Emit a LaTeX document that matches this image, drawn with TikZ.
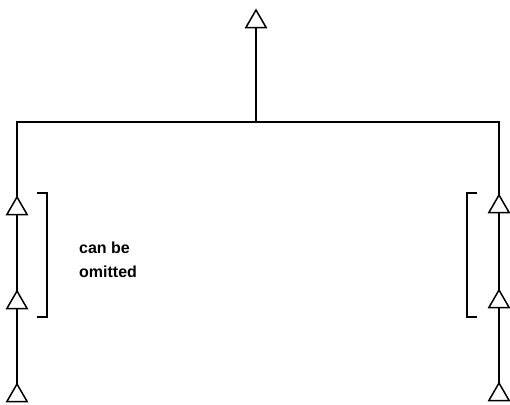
\documentclass[tikz,border=0pt]{standalone}
\usepackage{fontspec}
\setmainfont{Liberation Sans}
\usetikzlibrary{shapes.geometric}
\begin{document}
\begin{tikzpicture}[x=1pt, y=-1pt,
    tri/.style={regular polygon, regular polygon sides=3, draw, line width=1.5pt,
      inner sep=0pt, outer sep=0pt, minimum size=23.5pt, anchor=north},
    wire/.style={line width=1.3pt, line join=miter},
    bracket/.style={line width=2.8pt, line join=miter}]
    \useasboundingbox (0,0) rectangle (510,404);
    % Wierzcholek gorny
    \node[tri] (top) at (256, 10) {};

    % Lewa galaz
    \node[tri] (l1) at (17, 197) {};
    \node[tri] (l2) at (17, 291) {};
    \node[tri] (l3) at (17, 384) {};

    % Prawa galaz
    \node[tri] (r1) at (499, 195) {};
    \node[tri] (r2) at (499, 290) {};
    \node[tri] (r3) at (499, 383) {};

    % Punkty na szynie
    \coordinate (jt) at (256, 122);
    \coordinate (jl) at (17, 122);
    \coordinate (jr) at (499, 122);

    % Polaczenia
    \draw[wire] (top.south) -- (jt);
    \draw[wire] (l1.north) -- (jl) -- (jr) -- (r1.north);
    \draw[wire] (l1.south) -- (l2.north);
    \draw[wire] (l2.south) -- (l3.north);
    \draw[wire] (r1.south) -- (r2.north);
    \draw[wire] (r2.south) -- (r3.north);

    % Nawiasy
    \draw[bracket] (37, 193) -- (47, 193) -- (47, 317) -- (37, 317);
    \draw[bracket] (477, 193) -- (467, 193) -- (467, 317) -- (477, 317);

    % Opis
    \node[anchor=base west, align=left, inner sep=0pt,
      font=\fontsize{16}{24}\selectfont\bfseries] (note) at (79, 277)
      {can be\\omitted};
\end{tikzpicture}
\end{document}
